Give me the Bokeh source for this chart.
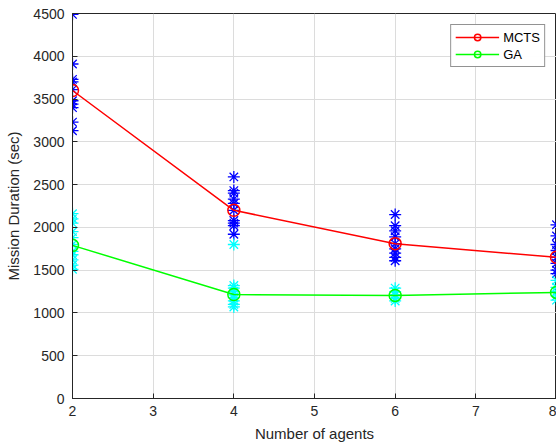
from bokeh.plotting import figure
from bokeh.models import Range1d, FixedTicker, Legend, LegendItem
from bokeh.embed import file_html
from bokeh.resources import INLINE

agents = [2, 4, 6, 8]
mcts_mean = [3600, 2200, 1810, 1650]
ga_mean = [1790, 1215, 1205, 1240]

mcts_runs = {
    2: [4490, 3910, 3730, 3700, 3610, 3480, 3440, 3400, 3230, 3130],
    4: [2590, 2430, 2400, 2330, 2280, 2200, 2080, 2050, 2020, 1920],
    6: [2150, 2020, 1960, 1890, 1810, 1750, 1700, 1650, 1610],
    8: [2030, 1900, 1800, 1730, 1650, 1580, 1500, 1460],
}
ga_runs = {
    2: [2160, 2100, 2050, 1950, 1880, 1800, 1720, 1680, 1620, 1560, 1510],
    4: [1800, 1320, 1290, 1250, 1220, 1180, 1140, 1100, 1070],
    6: [1290, 1250, 1210, 1170, 1140],
    8: [1380, 1300, 1250, 1200, 1150],
}

x_ticks = [2, 3, 4, 5, 6, 7, 8]
y_ticks = list(range(0, 4501, 500))

FONT = "Liberation Sans"
TXT = "#262626"

p = figure(width=556, height=446, output_backend="svg", toolbar_location=None,
           x_range=Range1d(2, 8), y_range=Range1d(0, 4500),
           min_border_left=72, min_border_right=0, min_border_top=13, min_border_bottom=48)

p.outline_line_color = "#262626"
p.outline_line_width = 1
p.background_fill_color = "white"
p.border_fill_color = "white"

for ax, ticks in ((p.xaxis, x_ticks), (p.yaxis, y_ticks)):
    ax.ticker = FixedTicker(ticks=ticks)
    ax.major_tick_in = 5
    ax.major_tick_out = 0
    ax.minor_tick_line_color = None
    ax.axis_line_color = "#262626"
    ax.major_tick_line_color = "#262626"
    ax.major_label_text_font = FONT
    ax.major_label_text_font_size = "14px"
    ax.major_label_text_color = TXT
    ax.axis_label_text_font = FONT
    ax.axis_label_text_font_size = "15px"
    ax.axis_label_text_font_style = "normal"
    ax.axis_label_text_color = TXT

p.xaxis.axis_label = "Number of agents"
p.yaxis.axis_label = "Mission Duration (sec)"
p.xaxis.major_label_standoff = 7
p.xaxis.axis_label_standoff = 6
p.yaxis.major_label_standoff = 8
p.yaxis.axis_label_standoff = 8

p.grid.grid_line_color = "#dcdcdc"
p.grid.grid_line_width = 1
p.xgrid.ticker = FixedTicker(ticks=x_ticks)
p.ygrid.ticker = FixedTicker(ticks=y_ticks)

for k in agents:
    p.scatter([k] * len(mcts_runs[k]), mcts_runs[k], marker="asterisk", size=12,
              line_color="#0000FF", line_width=1.3)
    p.scatter([k] * len(ga_runs[k]), ga_runs[k], marker="asterisk", size=12,
              line_color="#00FFFF", line_width=1.3)

l1 = p.line(agents, mcts_mean, line_color="#FF0000", line_width=1.5)
c1 = p.scatter(agents, mcts_mean, marker="circle", size=12, fill_color=None,
               line_color="#FF0000", line_width=1.5)
l2 = p.line(agents, ga_mean, line_color="#00FF00", line_width=1.5)
c2 = p.scatter(agents, ga_mean, marker="circle", size=12, fill_color=None,
               line_color="#00FF00", line_width=1.5)

legend = Legend(items=[LegendItem(label="MCTS", renderers=[l1, c1]),
                       LegendItem(label="GA", renderers=[l2, c2])],
                location="top_right")
legend.label_text_font = FONT
legend.label_text_font_size = "13px"
legend.label_text_color = "black"
legend.border_line_color = "#262626"
legend.border_line_width = 1
legend.glyph_width = 44
legend.glyph_height = 16
legend.label_height = 16
legend.spacing = 1
legend.padding = 4
legend.margin = 11
legend.label_standoff = 4
p.add_layout(legend)

open("out.html", "w").write(file_html(p, INLINE))
